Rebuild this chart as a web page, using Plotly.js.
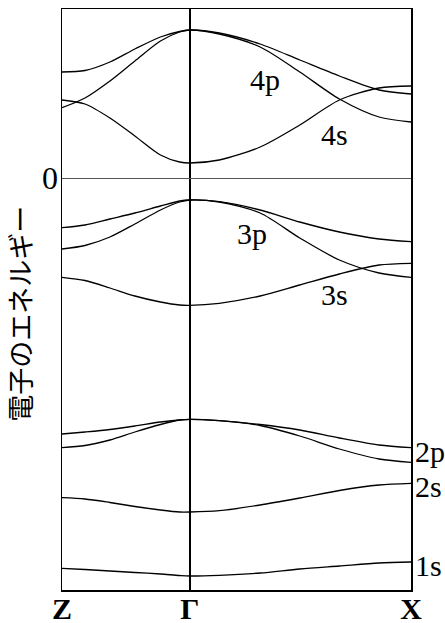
<!DOCTYPE html>
<html>
<head>
<meta charset="utf-8">
<script src="https://cdn.plot.ly/plotly-3.0.1.min.js"></script>
<style>
html,body{margin:0;padding:0;background:#fff;}
#chart{width:445px;height:623px;}
</style>
</head>
<body>
<div id="chart"></div>
<script>
// k-path positions: Z = 0, Γ = 1, X = 2.73
const kPoints = [0, 0.18, 0.375, 0.57, 0.77, 0.92, 1, 1.23, 1.55, 1.86, 2.17, 2.48, 2.73];
const kTickVals = [0, 1, 2.73];
const kTickText = ['Z', 'Γ', 'X'];

// band energies (arbitrary units, 0 = reference level)
const band4pA = [10.6, 10.75, 11.6, 12.9, 14.1, 14.65, 14.8, 14.5, 13.4, 11.8, 10.2, 8.8, 8.4];
const band4pB = [7.03, 8.0, 9.7, 11.7, 13.7, 14.6, 14.8, 14.4, 13.1, 10.6, 7.9, 6.1, 5.6];
const band4s  = [7.8, 7.4, 6.0, 4.2, 2.3, 1.6, 1.5, 1.8, 3.1, 5.3, 7.8, 9.0, 9.2];
const band3pA = [-4.97, -4.7, -4.1, -3.5, -2.8, -2.3, -2.2, -2.37, -3.2, -4.4, -5.4, -6.1, -6.37];
const band3pB = [-7.1, -6.75, -5.9, -4.6, -3.2, -2.4, -2.2, -2.4, -3.5, -6.0, -8.2, -9.5, -9.93];
const band3s  = [-9.93, -10.25, -11.0, -11.8, -12.4, -12.7, -12.73, -12.53, -11.8, -10.7, -9.6, -8.7, -8.53];
const band2pA = [-25.6, -25.4, -25.15, -24.8, -24.4, -24.2, -24.13, -24.27, -24.65, -25.2, -26.0, -26.7, -26.97];
const band2pB = [-26.97, -26.75, -26.2, -25.4, -24.65, -24.2, -24.13, -24.27, -24.75, -25.8, -27.1, -28.1, -28.43];
const band2s  = [-31.97, -32.1, -32.45, -32.85, -33.2, -33.4, -33.4, -33.27, -32.7, -32.0, -31.25, -30.7, -30.53];
const band1s  = [-39.03, -39.15, -39.3, -39.45, -39.6, -39.75, -39.8, -39.73, -39.5, -39.1, -38.8, -38.5, -38.4];

const bands = [band4pA, band4pB, band4s, band3pA, band3pB, band3s, band2pA, band2pB, band2s, band1s];

// orbital labels
const labelText = ['4p', '4s', '3p', '3s'];
const labelK    = [1.586, 2.133, 1.484, 2.133];
const labelE    = [9.9, 4.4, -5.5, -11.6];
const edgeLabelText = ['2p', '2s', '1s'];
const edgeLabelE    = [-27.3, -30.8, -38.7];

const serif = 'Liberation Serif';

const traces = bands.map(b => ({
  x: kPoints, y: b, type: 'scatter', mode: 'lines',
  line: {color: '#000', width: 1.3, shape: 'spline', smoothing: 0.8},
  hoverinfo: 'skip', showlegend: false
}));

const annotations = [];
labelText.forEach((t, i) => annotations.push({
  x: labelK[i], y: labelE[i], xref: 'x', yref: 'y', text: t, showarrow: false,
  xanchor: 'center', yanchor: 'middle', font: {family: serif, size: 30, color: '#000'}
}));
edgeLabelText.forEach((t, i) => annotations.push({
  x: 1.006, y: edgeLabelE[i], xref: 'paper', yref: 'y', text: t, showarrow: false,
  xanchor: 'left', yanchor: 'middle', font: {family: serif, size: 30, color: '#000'}
}));
annotations.push({
  x: -0.124, y: 0.475, xref: 'paper', yref: 'paper', text: '電子のエネルギー',
  showarrow: false, textangle: -90, xanchor: 'center', yanchor: 'middle',
  font: {family: 'Noto Sans CJK JP', size: 27, color: '#000'}
});

const layout = {
  width: 445, height: 623,
  margin: {l: 62, r: 34, t: 9, b: 33},
  paper_bgcolor: '#fff', plot_bgcolor: '#fff',
  showlegend: false,
  xaxis: {
    range: [0, 2.73], tickmode: 'array', tickvals: kTickVals, ticktext: kTickText,
    tickfont: {family: serif, size: 30, color: '#000', weight: 'bold'},
    ticklabelstandoff: -9,
    showgrid: true, gridcolor: '#000', gridwidth: 1.5,
    showline: true, mirror: true, linecolor: '#000', linewidth: 1.5,
    ticks: '', zeroline: false, fixedrange: true
  },
  yaxis: {
    range: [-41.2, 16.9], tickmode: 'array', tickvals: [0], ticktext: ['0'],
    tickfont: {family: serif, size: 32, color: '#000'},
    ticklabelstandoff: -4,
    showgrid: false, zeroline: true, zerolinecolor: '#555', zerolinewidth: 1,
    showline: true, mirror: true, linecolor: '#000', linewidth: 1.5,
    ticks: '', fixedrange: true
  },
  annotations: annotations
};

Plotly.newPlot('chart', traces, layout, {displayModeBar: false, staticPlot: true});
</script>
</body>
</html>
